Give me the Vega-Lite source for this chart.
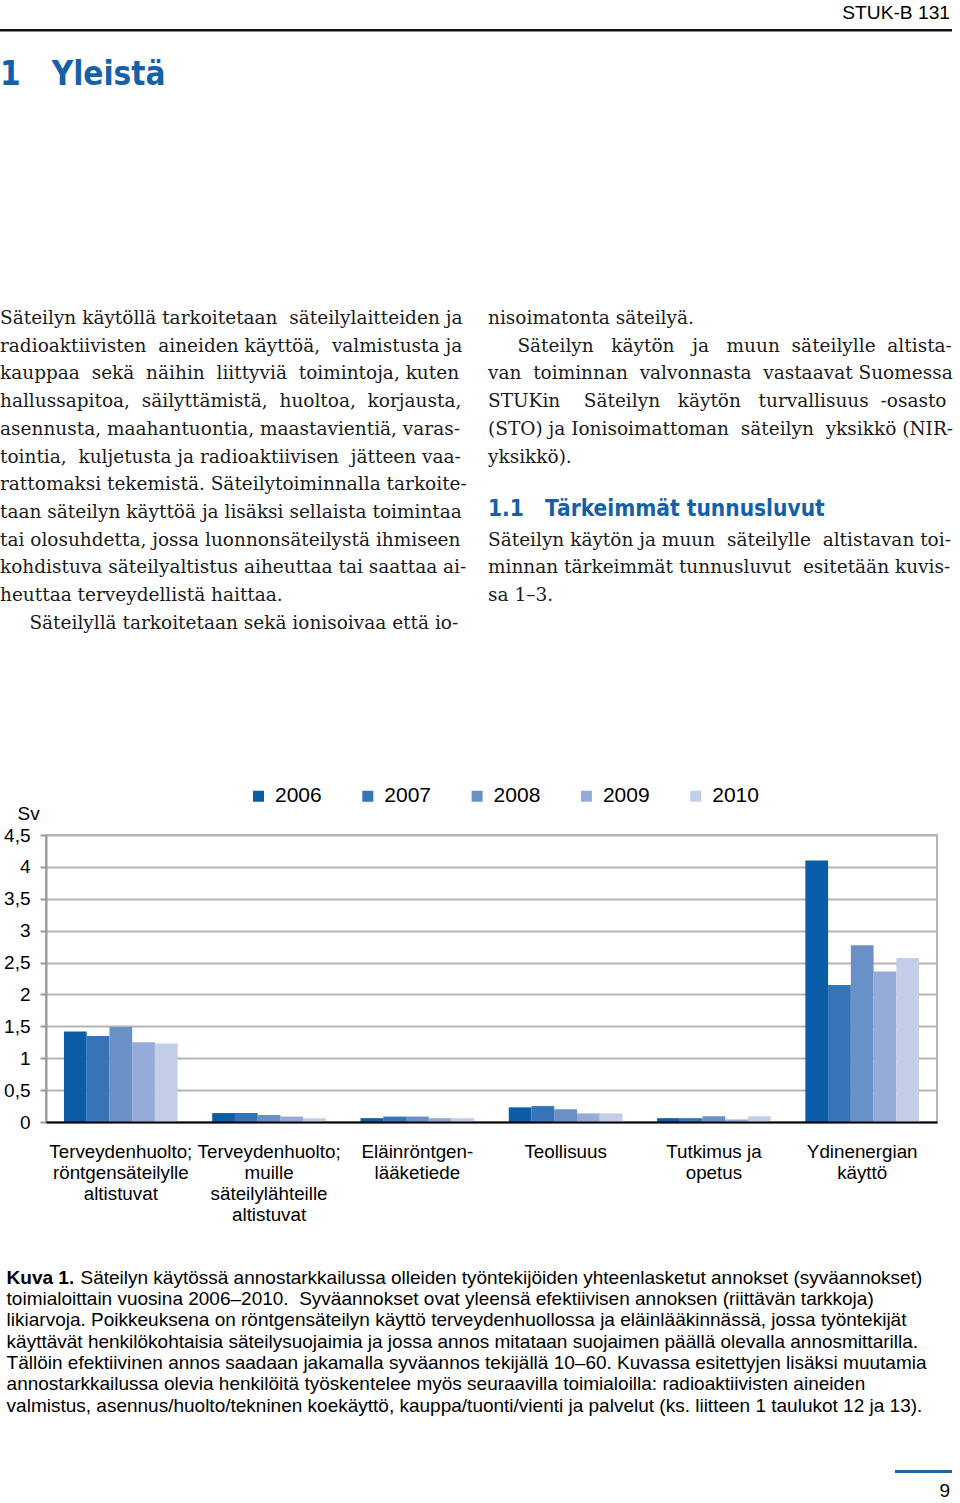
{
  "$schema": "https://vega.github.io/schema/vega-lite/v6.json",
  "background": "white",
  "padding": {"top": 4, "left": 0, "right": 0, "bottom": 0},
  "spacing": 0,
  "config": {"view": {"stroke": null}, "font": "Liberation Sans", "concat": {"spacing": 0}},
  "resolve": {"scale": {"color": "independent"}, "legend": {"color": "independent"}},
  "datasets": {
    "bars": [
      {"ala": "Terveydenhuolto;\nröntgensäteilylle\naltistuvat", "vuosi": "2006", "sv": 1.42},
      {"ala": "Terveydenhuolto;\nröntgensäteilylle\naltistuvat", "vuosi": "2007", "sv": 1.35},
      {"ala": "Terveydenhuolto;\nröntgensäteilylle\naltistuvat", "vuosi": "2008", "sv": 1.49},
      {"ala": "Terveydenhuolto;\nröntgensäteilylle\naltistuvat", "vuosi": "2009", "sv": 1.25},
      {"ala": "Terveydenhuolto;\nröntgensäteilylle\naltistuvat", "vuosi": "2010", "sv": 1.23},
      {"ala": "Terveydenhuolto;\nmuille\nsäteilylähteille\naltistuvat", "vuosi": "2006", "sv": 0.14},
      {"ala": "Terveydenhuolto;\nmuille\nsäteilylähteille\naltistuvat", "vuosi": "2007", "sv": 0.14},
      {"ala": "Terveydenhuolto;\nmuille\nsäteilylähteille\naltistuvat", "vuosi": "2008", "sv": 0.11},
      {"ala": "Terveydenhuolto;\nmuille\nsäteilylähteille\naltistuvat", "vuosi": "2009", "sv": 0.085},
      {"ala": "Terveydenhuolto;\nmuille\nsäteilylähteille\naltistuvat", "vuosi": "2010", "sv": 0.06},
      {"ala": "Eläinröntgen-\nlääketiede", "vuosi": "2006", "sv": 0.06},
      {"ala": "Eläinröntgen-\nlääketiede", "vuosi": "2007", "sv": 0.085},
      {"ala": "Eläinröntgen-\nlääketiede", "vuosi": "2008", "sv": 0.085},
      {"ala": "Eläinröntgen-\nlääketiede", "vuosi": "2009", "sv": 0.06},
      {"ala": "Eläinröntgen-\nlääketiede", "vuosi": "2010", "sv": 0.06},
      {"ala": "Teollisuus", "vuosi": "2006", "sv": 0.23},
      {"ala": "Teollisuus", "vuosi": "2007", "sv": 0.25},
      {"ala": "Teollisuus", "vuosi": "2008", "sv": 0.2},
      {"ala": "Teollisuus", "vuosi": "2009", "sv": 0.135},
      {"ala": "Teollisuus", "vuosi": "2010", "sv": 0.135},
      {"ala": "Tutkimus ja\nopetus", "vuosi": "2006", "sv": 0.06},
      {"ala": "Tutkimus ja\nopetus", "vuosi": "2007", "sv": 0.06},
      {"ala": "Tutkimus ja\nopetus", "vuosi": "2008", "sv": 0.09},
      {"ala": "Tutkimus ja\nopetus", "vuosi": "2009", "sv": 0.04},
      {"ala": "Tutkimus ja\nopetus", "vuosi": "2010", "sv": 0.09},
      {"ala": "Ydinenergian\nkäyttö", "vuosi": "2006", "sv": 4.1},
      {"ala": "Ydinenergian\nkäyttö", "vuosi": "2007", "sv": 2.15},
      {"ala": "Ydinenergian\nkäyttö", "vuosi": "2008", "sv": 2.77},
      {"ala": "Ydinenergian\nkäyttö", "vuosi": "2009", "sv": 2.36},
      {"ala": "Ydinenergian\nkäyttö", "vuosi": "2010", "sv": 2.57}
    ],
    "none": []
  },
  "vconcat": [
    {
      "data": {"name": "none"},
      "mark": "point",
      "width": 952,
      "height": 2.5,
      "view": {"fill": "#111111", "stroke": null},
      "title": {"text": "STUK-B 131", "orient": "top", "anchor": "end", "offset": 5.8, "dx": -2, "fontSize": 19.2, "font": "Liberation Sans", "fontWeight": "normal", "color": "#000000"}
    },
    {
      "data": {"name": "none"},
      "mark": "point",
      "width": 952,
      "height": 27,
      "title": {"text": "1\u00a0\u00a0\u00a0Yleistä", "orient": "bottom", "anchor": "start", "offset": 0, "fontSize": 33, "font": "DejaVu Sans Condensed, sans-serif", "fontWeight": "bold", "color": "#1461aa"}
    },
    {
      "bounds": "flush",
      "spacing": 23,
      "hconcat": [
        {
          "data": {"name": "none"},
          "mark": "point",
          "width": 465,
          "height": 217,
          "title": {
            "text": [
              "Säteilyn käytöllä tarkoitetaan \u00a0säteilylaitteiden ja",
              "radioaktiivisten \u00a0aineiden käyttöä, \u00a0valmistusta ja",
              "kauppaa \u00a0sekä \u00a0näihin \u00a0liittyviä \u00a0toimintoja, kuten",
              "hallussapitoa, \u00a0säilyttämistä, \u00a0huoltoa, \u00a0korjausta,",
              "asennusta, maahantuontia, maastavientiä, varas-",
              "tointia, \u00a0kuljetusta ja radioaktiivisen \u00a0jätteen vaa-",
              "rattomaksi tekemistä. Säteilytoiminnalla tarkoite-",
              "taan säteilyn käyttöä ja lisäksi sellaista toimintaa",
              "tai olosuhdetta, jossa luonnonsäteilystä ihmiseen",
              "kohdistuva säteilyaltistus aiheuttaa tai saattaa ai-",
              "heuttaa terveydellistä haittaa.",
              "\u200b\u00a0\u00a0\u00a0\u00a0\u00a0Säteilyllä tarkoitetaan sekä ionisoivaa että io-"
            ],
            "orient": "bottom", "anchor": "start", "offset": 0, "fontSize": 18.5, "lineHeight": 27.7,
            "font": "DejaVu Serif", "fontWeight": "normal", "color": "#1a1a1a"
          }
        },
        {
          "spacing": 0,
          "vconcat": [
            {
              "data": {"name": "none"},
              "mark": "point",
              "width": 465,
              "height": 217,
              "title": {
                "text": [
                  "nisoimatonta säteilyä.",
                  "\u200b\u00a0\u00a0\u00a0\u00a0\u00a0Säteilyn \u00a0\u00a0käytön \u00a0\u00a0ja \u00a0\u00a0muun \u00a0säteilylle \u00a0altista-",
                  "van \u00a0toiminnan \u00a0valvonnasta \u00a0vastaavat Suomessa",
                  "STUKin \u00a0\u00a0\u00a0Säteilyn \u00a0\u00a0käytön \u00a0\u00a0turvallisuus \u00a0-osasto",
                  "(STO) ja Ionisoimattoman \u00a0säteilyn \u00a0yksikkö (NIR-",
                  "yksikkö)."
                ],
                "orient": "bottom", "anchor": "start", "offset": 0, "fontSize": 18.5, "lineHeight": 27.7,
                "font": "DejaVu Serif", "fontWeight": "normal", "color": "#1a1a1a"
              }
            },
            {
              "data": {"name": "none"},
              "mark": "point",
              "width": 465,
              "height": 32,
              "title": {
                "text": "1.1\u00a0\u00a0\u00a0Tärkeimmät tunnusluvut",
                "orient": "bottom", "anchor": "start", "offset": 0, "fontSize": 22.5,
                "font": "DejaVu Sans Condensed, sans-serif", "fontWeight": "bold", "color": "#1461aa",
                "subtitle": [
                  "Säteilyn käytön ja muun \u00a0säteilylle \u00a0altistavan toi-",
                  "minnan tärkeimmät tunnusluvut \u00a0esitetään kuvis-",
                  "sa 1–3."
                ],
                "subtitleFont": "DejaVu Serif", "subtitleFontSize": 18.5, "subtitleLineHeight": 27.7,
                "subtitlePadding": 10, "subtitleColor": "#1a1a1a", "subtitleFontWeight": "normal"
              }
            }
          ]
        }
      ]
    },
    {
      "data": {"name": "none"},
      "mark": "point",
      "width": 10,
      "height": 151
    },
    {
      "bounds": "flush",
      "spacing": 0,
      "resolve": {"scale": {"color": "independent"}, "legend": {"color": "independent"}},
      "hconcat": [
        {"data": {"name": "none"}, "mark": "point", "width": 46, "height": 287},
        {
          "data": {"name": "bars"},
          "width": 891,
          "height": 287,
          "view": {"stroke": "#b4b4b4", "strokeWidth": 2},
          "mark": {"type": "bar"},
          "encoding": {
            "x": {
              "field": "ala", "type": "nominal", "sort": null,
              "scale": {"paddingInner": 0.233, "paddingOuter": 0.121},
              "axis": {
                "title": null, "ticks": false, "tickSize": 0, "domainColor": "#000000", "domainWidth": 2,
                "labelAngle": 0, "labelFontSize": 18.8, "labelFont": "Liberation Sans", "labelColor": "#000000",
                "labelPadding": 20, "labelLineHeight": 21, "labelLimit": 200, "labelOverlap": false,
                "labelBaseline": "top", "labelExpr": "split(datum.label, '\\n')", "zindex": 1, "grid": false
              }
            },
            "xOffset": {"field": "vuosi", "type": "nominal", "scale": {"paddingInner": 0, "paddingOuter": 0}},
            "y": {
              "field": "sv", "type": "quantitative",
              "scale": {"domain": [0, 4.5], "nice": false},
              "axis": {
                "title": "Sv", "titleAngle": 0, "titleAlign": "left", "titleBaseline": "alphabetic",
                "titleX": -29, "titleY": -15.5, "titleFontSize": 19, "titleFontWeight": "normal", "titleColor": "#000000", "titleFont": "Liberation Sans",
                "values": [0, 0.5, 1, 1.5, 2, 2.5, 3, 3.5, 4, 4.5],
                "format": "~g", "labelExpr": "replace(datum.label, '.', ',')",
                "labelFontSize": 19, "labelFont": "Liberation Sans", "labelColor": "#000000", "labelPadding": 10,
                "tickSize": 6, "tickColor": "#9a9a9a", "tickWidth": 2,
                "domainColor": "#9a9a9a", "domainWidth": 2,
                "gridColor": "#b4b4b4", "gridWidth": 2
              }
            },
            "color": {
              "field": "vuosi", "type": "nominal",
              "scale": {"domain": ["2006", "2007", "2008", "2009", "2010"], "range": ["#0a5ea8", "#3474b7", "#6990c7", "#96acd6", "#c3cfe8"]},
              "legend": {
                "title": null, "orient": "none", "legendX": 202, "legendY": -49.5, "direction": "horizontal", "columns": 5,
                "symbolType": "square", "symbolSize": 121, "symbolStrokeWidth": 0, "labelFontSize": 21, "labelFont": "Liberation Sans",
                "labelColor": "#000000", "labelOffset": 6, "columnPadding": 35.3, "padding": 0
              }
            }
          },
          "title": {
            "text": "Kuva 1.",
            "orient": "bottom", "anchor": "start", "frame": "bounds", "offset": 45, "dx": 3,
            "fontSize": 19, "fontWeight": "bold", "font": "Liberation Sans", "color": "#000000",
            "subtitle": [
              "\u200b\u00a0\u00a0\u00a0\u00a0\u00a0\u00a0\u00a0\u00a0\u00a0\u00a0\u00a0\u00a0\u00a0\u00a0Säteilyn käytössä annostarkkailussa olleiden työntekijöiden yhteenlasketut annokset (syväannokset)",
              "toimialoittain vuosina 2006–2010.\u00a0 Syväannokset ovat yleensä efektiivisen annoksen (riittävän tarkkoja)",
              "likiarvoja. Poikkeuksena on röntgensäteilyn käyttö terveydenhuollossa ja eläinlääkinnässä, jossa työntekijät",
              "käyttävät henkilökohtaisia säteilysuojaimia ja jossa annos mitataan suojaimen päällä olevalla annosmittarilla.",
              "Tällöin efektiivinen annos saadaan jakamalla syväannos tekijällä 10–60. Kuvassa esitettyjen lisäksi muutamia",
              "annostarkkailussa olevia henkilöitä työskentelee myös seuraavilla toimialoilla: radioaktiivisten aineiden",
              "valmistus, asennus/huolto/tekninen koekäyttö, kauppa/tuonti/vienti ja palvelut (ks. liitteen 1 taulukot 12 ja 13)."
            ],
            "subtitleFont": "Liberation Sans", "subtitleFontSize": 19, "subtitleLineHeight": 21.3,
            "subtitlePadding": -19, "subtitleColor": "#000000", "subtitleFontWeight": "normal"
          }
        }
      ]
    },
    {
      "data": {"name": "none"},
      "mark": "point",
      "width": 10,
      "height": 53
    },
    {
      "bounds": "flush",
      "spacing": 0,
      "hconcat": [
        {"data": {"name": "none"}, "mark": "point", "width": 895, "height": 3},
        {
          "data": {"name": "none"},
          "mark": "point",
          "width": 57,
          "height": 3,
          "view": {"fill": "#2563a9", "stroke": null},
          "title": {"text": "9", "orient": "bottom", "anchor": "end", "offset": 9, "dx": -2, "fontSize": 19, "fontWeight": "normal", "font": "Liberation Sans", "color": "#000000"}
        }
      ]
    }
  ]
}
